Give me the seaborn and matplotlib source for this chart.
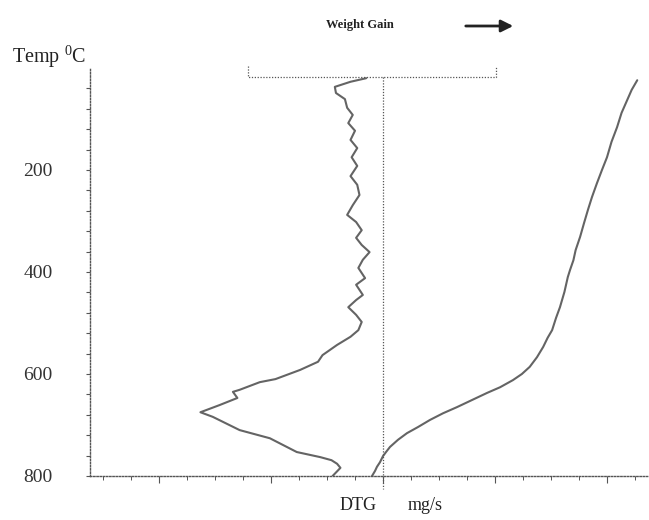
import numpy as np
import pandas as pd
import matplotlib
matplotlib.use("Agg")
import matplotlib.pyplot as plt
import seaborn as sns

# ---- data ----
# DTG curve (left, wiggly): temperature (deg C) and DTG (mg/s, arbitrary scale units)
dtg_temp = [20, 27, 37, 49, 61, 78, 92, 108, 123, 141, 157, 175, 192, 212, 229,
            249, 269, 288, 302, 318, 333, 347, 361, 376, 392, 412, 425, 445, 455,
            469, 484, 498, 514, 527, 543, 563, 576, 592, 610, 616, 631, 635, 647,
            661, 675, 684, 710, 726, 753, 763, 769, 776, 784, 800]
dtg_rate = [-0.15, -0.29, -0.43, -0.42, -0.34, -0.32, -0.27, -0.31, -0.25, -0.29,
            -0.23, -0.28, -0.23, -0.29, -0.23, -0.21, -0.27, -0.32, -0.24, -0.19,
            -0.24, -0.19, -0.12, -0.18, -0.22, -0.16, -0.24, -0.18, -0.24, -0.31,
            -0.24, -0.19, -0.22, -0.29, -0.41, -0.54, -0.58, -0.74, -0.96, -1.10,
            -1.28, -1.34, -1.30, -1.46, -1.63, -1.52, -1.28, -1.01, -0.77, -0.56,
            -0.46, -0.41, -0.38, -0.45]

# TG curve (right, smooth)
tg_temp = [24, 43, 63, 88, 116, 145, 175, 200, 226, 253, 278, 304, 331, 357, 377,
           396, 410, 439, 469, 490, 514, 529, 547, 567, 586, 600, 612, 626, 637,
           651, 665, 677, 690, 704, 716, 729, 743, 753, 761, 773, 782, 790, 800]
tg_signal = [2.27, 2.22, 2.18, 2.13, 2.09, 2.04, 2.00, 1.955, 1.91, 1.866, 1.83,
             1.795, 1.76, 1.72, 1.70, 1.67, 1.65, 1.62, 1.58, 1.545, 1.51, 1.47,
             1.43, 1.375, 1.31, 1.24, 1.16, 1.045, 0.93, 0.795, 0.66, 0.536, 0.42,
             0.3125, 0.214, 0.134, 0.0625, 0.027, 0.0, -0.027, -0.054, -0.071,
             -0.098]

temp_ticks = [200, 400, 600, 800]
temp_labels = ["200", "400", "600", "800"]
dtg_major_ticks = [-2, -1, 0, 1, 2]
weight_scale = [-1.205, 1.009]   # extent of the top bracket
bracket_temp = 17.6

# ---- style ----
sns.set_style("ticks")
plt.rcParams["font.family"] = ["Liberation Serif", "DejaVu Serif"]
plt.rcParams["mathtext.fontset"] = "custom"
plt.rcParams["mathtext.rm"] = "Liberation Serif"
plt.rcParams["mathtext.it"] = "Liberation Serif:italic"

W, H = 649, 520
fig = plt.figure(figsize=(W / 100, H / 100), dpi=100)
fig.patch.set_facecolor("white")
ax = fig.add_axes([90 / W, 44 / H, 559 / W, 408 / H])
ax.set_facecolor("white")

curve_col = "#646464"
axis_col = "#555555"
dots = (0, (1, 1.3))

dtg_df = pd.DataFrame({"temp": dtg_temp, "rate": dtg_rate})
tg_df = pd.DataFrame({"temp": tg_temp, "signal": tg_signal})
sns.lineplot(data=dtg_df, x="rate", y="temp", sort=False, estimator=None,
             color=curve_col, lw=1.5, ax=ax)
sns.lineplot(data=tg_df, x="signal", y="temp", sort=False, estimator=None,
             color=curve_col, lw=1.5, ax=ax)

ax.set_xlim(-2.616, 2.375)
ax.set_ylim(800, 0)
ax.set_xlabel("")
ax.set_ylabel("")

# spines
for s in ["top", "right"]:
    ax.spines[s].set_visible(False)
for s in ["left", "bottom"]:
    ax.spines[s].set_linestyle(dots)
    ax.spines[s].set_color(axis_col)
    ax.spines[s].set_linewidth(1.0)

# ticks
ax.set_yticks(temp_ticks)
ax.set_yticklabels(temp_labels, fontsize=14, color="#333333")
ax.set_yticks(np.arange(40, 800, 40), minor=True)
ax.tick_params(axis="y", which="both", direction="out", length=3, width=0.8,
               color=axis_col, pad=24)
ax.set_xticks(dtg_major_ticks)
ax.set_xticklabels([""] * len(dtg_major_ticks))
ax.set_xticks(np.arange(-2.5, 2.376, 0.25), minor=True)
ax.tick_params(axis="x", which="major", direction="out", length=5, width=0.8,
               color=axis_col)
ax.tick_params(axis="x", which="minor", direction="out", length=3, width=0.7,
               color=axis_col)

# zero line and weight bracket
ax.plot([0, 0], [bracket_temp, 825], ls=dots, color=axis_col, lw=0.9,
        clip_on=False)
ax.plot([weight_scale[0], weight_scale[0], weight_scale[1], weight_scale[1]],
        [-4, bracket_temp, bracket_temp, -4], ls=dots, color=axis_col, lw=0.9,
        clip_on=False)

# texts
fig.text(360 / W, 1 - 25 / H, "Weight Gain", ha="center", va="center",
         fontsize=9, fontweight="bold", color="#222222")
ax.annotate("", xy=(516 / W, 1 - 26 / H), xytext=(463 / W, 1 - 26 / H),
            xycoords="figure fraction", textcoords="figure fraction",
            arrowprops=dict(arrowstyle="-|>", color="#222222", lw=2.0,
                            mutation_scale=18))
fig.text(12 / W, 1 - 57 / H, r"Temp $^{0}$C", ha="left", va="center",
         fontsize=14.5, color="#222222")
fig.text(358 / W, 1 - 505 / H, "DTG", ha="center", va="center", fontsize=13,
         color="#222222")
fig.text(425 / W, 1 - 505 / H, "mg/s", ha="center", va="center", fontsize=13,
         color="#222222")

fig.savefig("out.png", dpi=100, facecolor="white")
